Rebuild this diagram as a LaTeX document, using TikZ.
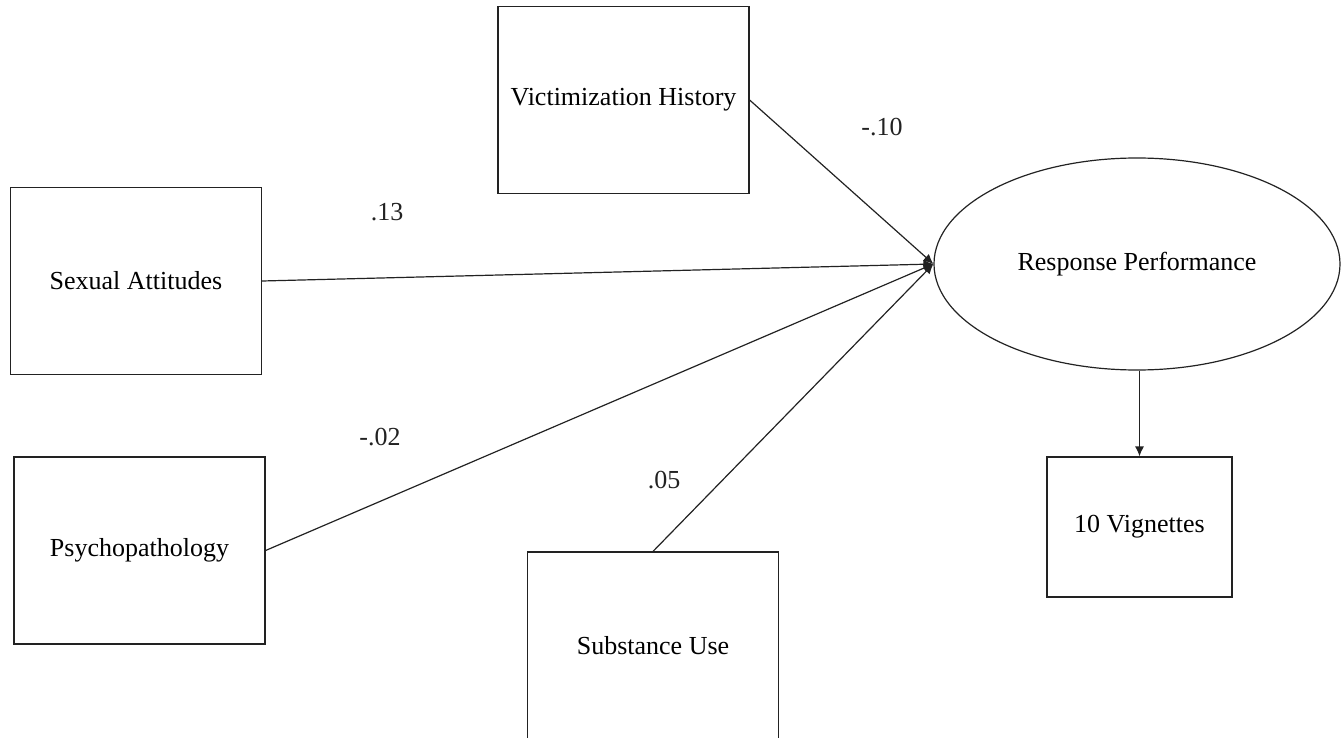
\documentclass[tikz,border=0pt]{standalone}
\usepackage{fontspec}
\setmainfont{Liberation Serif}
\usepackage{xcolor}
\definecolor{inkgray}{HTML}{222222}
\usepackage{tikz}
\usetikzlibrary{positioning,shapes.geometric,arrows.meta}

\begin{document}
\begin{tikzpicture}[
  x=1pt, y=-1pt,
  box/.style={draw=inkgray, line width=1.2pt, minimum width=251pt,
              minimum height=187pt, inner sep=0pt,
              font=\fontsize{26}{30}\selectfont, align=center},
  latent/.style={draw=inkgray, line width=1.2pt, ellipse,
                 minimum width=406pt, minimum height=212pt, inner sep=0pt,
                 font=\fontsize{26}{30}\selectfont},
  coef/.style={font=\fontsize{26}{30}\selectfont, text=inkgray},
  arr/.style={-{Latex[length=10pt,width=9pt]}, line width=1.2pt, color=inkgray}
]
  \useasboundingbox (0,0) rectangle (1341,738);

  \node[box] (vic) at (623.5,100)   {Victimization History};
  \node[box] (sex) at (136,281)     {Sexual Attitudes};
  \node[box] (psy) at (139.5,550.5) {Psychopathology};
  \node[box] (sub) at (653,645.5)   {Substance Use};
  \node[latent] (resp) at (1137,264) {Response Performance};
  \node[box, minimum width=185pt, minimum height=140pt] (vig) at (1139.5,527) {10 Vignettes};

  \draw[arr] (vic.east) -- (resp.west);
  \draw[arr] (sex.east) -- (resp.west);
  \draw[arr] (psy.east) -- (resp.west);
  \draw[arr] (sub.north) -- (resp.west);
  \draw[arr] (vig.north |- resp.south) -- (vig.north);

  % path coefficients
  \node[coef] (cvic) at (882,127) {-.10};
  \node[coef] (csex) at (387,212) {.13};
  \node[coef] (cpsy) at (380,437) {-.02};
  \node[coef] (csub) at (664,480) {.05};
\end{tikzpicture}
\end{document}
